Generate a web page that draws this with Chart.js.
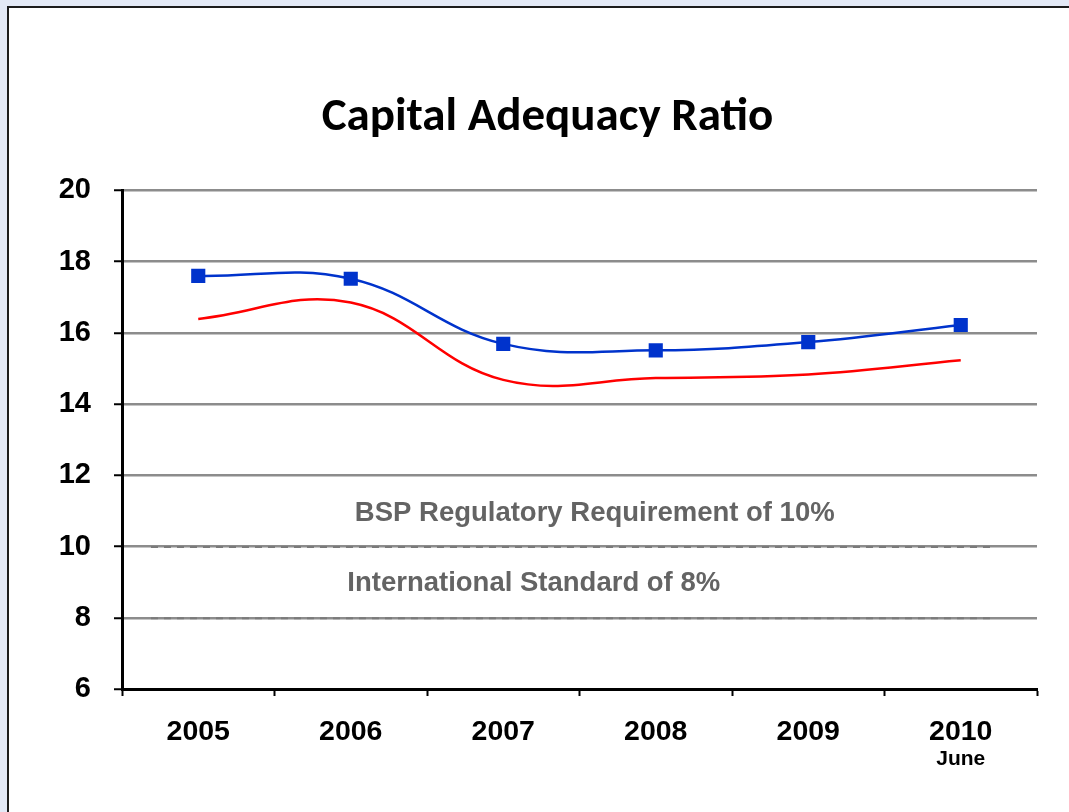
<!DOCTYPE html>
<html>
<head>
<meta charset="utf-8">
<title>Capital Adequacy Ratio</title>
<script src="https://cdn.jsdelivr.net/npm/chart.js@4.4.1/dist/chart.umd.min.js"></script>
<style>
    html, body { margin: 0; padding: 0; background: #e3e9f6; overflow: hidden; }
    #marco {
        position: absolute; left: 7px; top: 6px; width: 1100px; height: 840px;
        background: #fff; border-left: 2px solid #1c1c1c; border-top: 2px solid #1c1c1c;
    }
    #lienzo { position: absolute; left: 0; top: 0; }
</style>
</head>
<body>
<div id="marco"></div>
<canvas id="lienzo" width="1069" height="812"></canvas>
<script>
// Datos del gráfico
const anios = ['2005', '2006', '2007', '2008', '2009', '2010'];
const subEtiquetas = ['', '', '', '', '', 'June'];
const ratioSistema = [17.60, 17.52, 15.69, 15.51, 15.74, 16.22];
const ratioBancos = [16.39, 16.85, 14.68, 14.73, 14.83, 15.23];
const marcasY = [6, 8, 10, 12, 14, 16, 18, 20];
const requisitos = [
    { valor: 10, texto: 'BSP Regulatory Requirement of 10%' },
    { valor: 8, texto: 'International Standard of 8%' }
];

const fuente = "'Liberation Sans', Arial, sans-serif";

// Líneas punteadas de requisitos, sus textos y la segunda línea "June"
const pluginRequisitos = {
    id: 'requisitos',
    beforeDatasetsDraw(chart) {
        const ctx = chart.ctx;
        const x = chart.scales.x;
        const y = chart.scales.y;
        ctx.save();
        ctx.strokeStyle = '#7a7a7a';
        ctx.lineWidth = 2;
        ctx.setLineDash([7, 6]);
        requisitos.forEach(r => {
            const py = y.getPixelForValue(r.valor) + 0.5;
            ctx.beginPath();
            ctx.moveTo(x.getPixelForValue(-0.31), py);
            ctx.lineTo(x.getPixelForValue(5.22), py);
            ctx.stroke();
        });
        ctx.setLineDash([]);
        ctx.fillStyle = '#646464';
        ctx.font = 'bold 27.5px ' + fuente;
        ctx.textAlign = 'center';
        ctx.textBaseline = 'middle';
        ctx.fillText(requisitos[0].texto, x.getPixelForValue(2.6), y.getPixelForValue(10.94));
        ctx.fillText(requisitos[1].texto, x.getPixelForValue(2.2), y.getPixelForValue(8.97));
        ctx.restore();
    },
    afterDraw(chart) {
        const ctx = chart.ctx;
        const x = chart.scales.x;
        ctx.save();
        ctx.fillStyle = '#000';
        ctx.font = 'bold 21px ' + fuente;
        ctx.textAlign = 'center';
        ctx.textBaseline = 'middle';
        subEtiquetas.forEach((s, i) => {
            if (s) ctx.fillText(s, x.getPixelForValue(i), x.top + 70);
        });
        ctx.restore();
    }
};

const ctx = document.getElementById('lienzo').getContext('2d');
window.graficoCAR = new Chart(ctx, {
    type: 'line',
    data: {
        labels: anios,
        datasets: [{
            label: 'CAR',
            data: ratioSistema,
            borderColor: '#0033cc',
            backgroundColor: '#0033cc',
            borderWidth: 2.5,
            pointStyle: 'rect',
            pointRadius: 10,
            pointBorderWidth: 0,
            tension: 0.4,
            fill: false
        }, {
            label: 'CAR 2',
            data: ratioBancos,
            borderColor: '#ff0000',
            borderWidth: 2.5,
            pointRadius: 0,
            tension: 0.4,
            fill: false
        }]
    },
    options: {
        responsive: false,
        animation: false,
        layout: { padding: { left: 58, right: 32, top: 0, bottom: 0 } },
        plugins: {
            legend: { display: false },
            tooltip: { enabled: false },
            title: {
                display: true,
                text: 'Capital Adequacy Ratio',
                color: '#000',
                font: { family: "Carlito, Lato, sans-serif", size: 47, weight: 'bold', lineHeight: 1.2 },
                padding: { top: 90, bottom: 44 }
            }
        },
        scales: {
            x: {
                offset: true,
                grid: {
                    offset: true,
                    drawOnChartArea: false,
                    tickColor: '#000',
                    tickLength: 7,
                    tickWidth: 2
                },
                border: { color: '#000', width: 3 },
                ticks: {
                    color: '#000',
                    font: { family: fuente, size: 28.5, weight: 'bold' },
                    padding: 19,
                    maxRotation: 0
                },
                afterFit(scale) { scale.height = 123; }
            },
            y: {
                min: 6,
                max: 20,
                afterBuildTicks(scale) { scale.ticks = marcasY.map(v => ({ value: v })); },
                grid: {
                    color: '#8c8c8c',
                    lineWidth: 2.5,
                    tickColor: '#000',
                    tickLength: 8,
                    tickWidth: 2
                },
                border: { color: '#000', width: 3 },
                ticks: {
                    color: '#000',
                    font: { family: fuente, size: 29, weight: 'bold' },
                    padding: 23
                },
                afterFit(scale) { scale.width = 64; }
            }
        }
    },
    plugins: [pluginRequisitos]
});
</script>
</body>
</html>
